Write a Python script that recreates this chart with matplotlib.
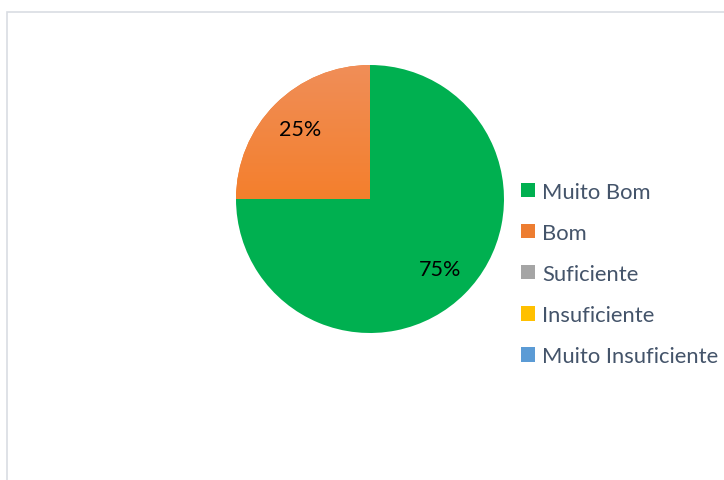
import numpy as np
import matplotlib.pyplot as plt
from matplotlib.patches import Rectangle
from matplotlib.colors import LinearSegmentedColormap

categorias = ["Muito Bom", "Bom", "Suficiente", "Insuficiente", "Muito Insuficiente"]
valores = [75, 25, 0, 0, 0]
cores = ["#00B050", "#ED7D31", "#A5A5A5", "#FFC000", "#5B9BD5"]

plt.rcParams['font.family'] = ['Lato', 'DejaVu Sans']

fig = plt.figure(figsize=(7.24, 4.81), dpi=100)
W, H = 724, 481

# moldura da area do grafico (so as bordas esquerda e superior ficam visiveis)
fig.patches.append(Rectangle((6.5 / W, -0.1), 1.2, 1.1 - 12.5 / H, transform=fig.transFigure,
                             fill=False, edgecolor="#D9DDE3", linewidth=1.2))

# area do pie: centro (370,200), raio 134 px
cx, cy, r = 370, 200, 134
ax = fig.add_axes([(cx - r) / W, 1 - (cy + r) / H, 2 * r / W, 2 * r / H])
wedges, _ = ax.pie(valores, colors=cores, startangle=90, counterclock=False,
                   radius=1, wedgeprops=dict(linewidth=0))
ax.set_aspect("equal")
ax.axis("off")

# gradiente no setor laranja
grad = LinearSegmentedColormap.from_list("lar", ["#E56A1C", "#F47F2C", "#F08E58"])
img = ax.imshow(np.linspace(0, 1, 256).reshape(-1, 1), cmap=grad, origin="lower",
                extent=[-1, 1, -1, 1], aspect="auto", zorder=wedges[1].get_zorder() + 0.1)
img.set_clip_path(wedges[1])
ax.set_xlim(-1, 1)
ax.set_ylim(-1, 1)

# rotulos de percentagem
total = sum(valores)
for w, v in zip(wedges, valores):
    if v == 0:
        continue
    ang = np.deg2rad((w.theta1 + w.theta2) / 2)
    ax.text(0.74 * np.cos(ang), 0.74 * np.sin(ang), f"{v / total * 100:.0f}%",
            ha="center", va="center", fontsize=15.5, color="black", zorder=5)

fig.legend(wedges, categorias, loc="upper left", bbox_to_anchor=(501 / W, 1 - 163 / H),
           frameon=False, fontsize=15.8, handlelength=0.65, handleheight=0.65,
           handletextpad=0.32, labelspacing=0.96, labelcolor="#44546A")

plt.savefig("out.png", dpi=100)
